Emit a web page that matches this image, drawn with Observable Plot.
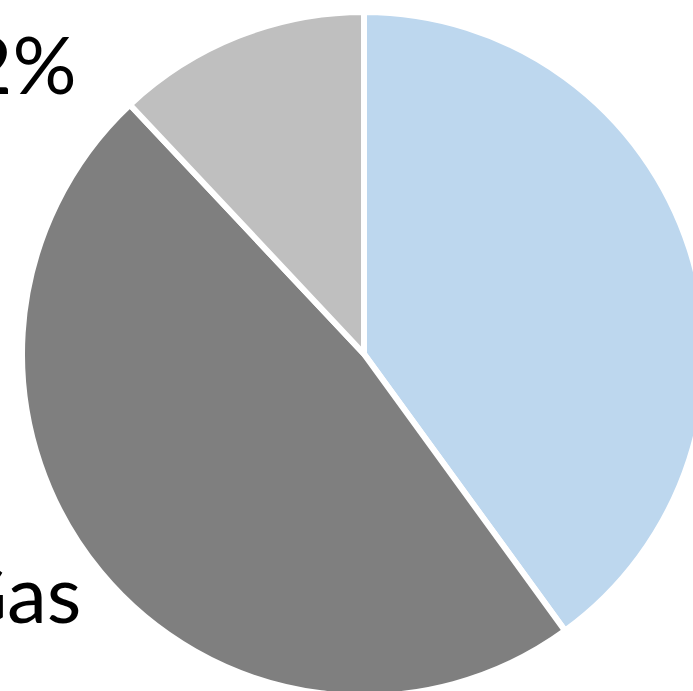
<!DOCTYPE html>
<html>
<head>
<meta charset="utf-8">
<script src="https://cdn.jsdelivr.net/npm/d3@7"></script>
<script src="https://cdn.jsdelivr.net/npm/@observablehq/plot@0.6"></script>
<style>
  html, body { margin: 0; padding: 0; background: #fff; overflow: hidden; }
</style>
</head>
<body>
<div id="chart"></div>
<script>
// Data
const categories = ["Other fuels", "Gas", "Other"];
const shares = [40, 48, 12];
const colors = ["#BDD7EE", "#7F7F7F", "#BFBFBF"];
const labelTexts = ["12%", "Gas"];

const W = 693, H = 691;
const slices = categories.map((c, i) => ({category: c, value: shares[i]}));

// Layout (pixel frame)
const center = {x: 364, y: 354};
const radius = 342;
const labels = [
  {text: labelTexts[0], x: 76, y: 93},
  {text: labelTexts[1], x: 81, y: 622}
];

function pieMark(index, scales) {
  const pie = d3.pie().value(d => d.value).sort(null);
  const arcs = pie(slices);
  const arc = d3.arc().innerRadius(0).outerRadius(radius);
  const cx = scales.x(center.x), cy = scales.y(center.y);
  const color = d3.scaleOrdinal(categories, colors);
  const g = d3.create("svg:g").attr("transform", `translate(${cx},${cy})`);
  g.selectAll("path")
    .data(arcs)
    .join("path")
    .attr("d", arc)
    .attr("fill", d => color(d.data.category))
    .attr("stroke", "#fff")
    .attr("stroke-width", 6)
    .attr("stroke-linejoin", "miter");
  return g.node();
}

const chart = Plot.plot({
  width: W,
  height: H,
  margin: 0,
  x: {domain: [0, W], range: [0, W], axis: null},
  y: {domain: [0, H], range: [0, H], axis: null},
  style: {background: "#fff", overflow: "hidden"},
  marks: [
    pieMark,
    Plot.text(labels, {
      x: "x", y: "y", text: "text",
      textAnchor: "end",
      lineAnchor: "bottom",
      fontSize: 80,
      fontFamily: "Lato",
      fill: "#000"
    })
  ]
});
document.getElementById("chart").appendChild(chart);
</script>
</body>
</html>
